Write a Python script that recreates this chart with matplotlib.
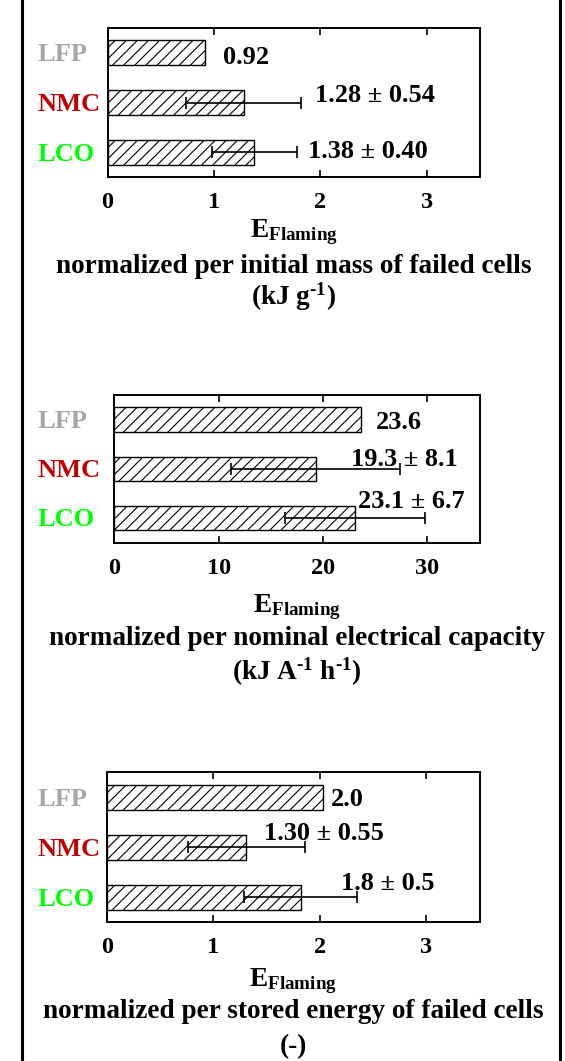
import numpy as np
import matplotlib
matplotlib.use('Agg')
import matplotlib.pyplot as plt
import matplotlib.transforms as mtransforms
from matplotlib.lines import Line2D

# Datos
categorias = ['LFP', 'NMC', 'LCO']
colores_cat = ['#a6a6a6', '#c00000', '#00ff00']

masa_val = [0.92, 1.28, 1.38]
masa_err = [0.0, 0.54, 0.40]
masa_txt = ['0.92', '1.28 ± 0.54', '1.38 ± 0.40']

capacidad_val = [23.6, 19.3, 23.1]
capacidad_err = [0.0, 8.1, 6.7]
capacidad_txt = ['23.6', '19.3 ± 8.1', '23.1 ± 6.7']

energia_val = [2.03, 1.31, 1.82]
energia_err = [0.0, 0.55, 0.53]
energia_txt = ['2.0', '1.30 ± 0.55', '1.8 ± 0.5']

ticks_masa = [0, 1, 2, 3]
ticks_capacidad = [0, 10, 20, 30]
ticks_energia = [0, 1, 2, 3]

plt.rcParams['font.family'] = ['Liberation Serif', 'DejaVu Serif']
plt.rcParams['font.weight'] = 'bold'
plt.rcParams['mathtext.fontset'] = 'custom'
plt.rcParams['mathtext.rm'] = 'Liberation Serif:bold'
plt.rcParams['mathtext.bf'] = 'Liberation Serif:bold'
plt.rcParams['mathtext.it'] = 'Liberation Serif:bold'
plt.rcParams['hatch.linewidth'] = 0.8

W, H = 565, 1061
fig = plt.figure(figsize=(W / 100, H / 100), dpi=100)


def caja(x0, x1, y0, y1):
    # pixeles (desde arriba) -> fraccion de figura
    return [x0 / W, 1 - y1 / H, (x1 - x0) / W, (y1 - y0) / H]


def panel(rect, valores, errores, textos, txt_x, txt_dy, xmax, ticks,
          lineas, y_lineas):
    ax = fig.add_axes(rect)
    y = np.arange(len(categorias))
    ax.barh(y, valores, height=0.5, color='white', edgecolor='black',
            hatch='///', linewidth=1.0)
    for i in range(len(categorias)):
        if errores[i] > 0:
            ax.errorbar(valores[i], y[i], xerr=errores[i], fmt='none',
                        ecolor='black', elinewidth=1.2, capsize=4,
                        capthick=1.2)
        ax.text(txt_x[i], y[i] + txt_dy[i], textos[i], fontsize=19,
                fontweight='bold', ha='left', va='baseline')
    ax.set_xlim(0, xmax)
    ax.set_ylim(2.5, -0.5)
    ax.set_yticks([])
    ax.set_xticks(ticks)
    ax.set_xticklabels([str(t) for t in ticks], fontsize=17.5,
                       fontweight='bold')
    ax.tick_params(axis='x', direction='in', top=True, bottom=True,
                   length=5, width=1.2, pad=11)
    for s in ax.spines.values():
        s.set_linewidth(1.4)

    # etiquetas de categoria, alineadas a la izquierda en x=38 px
    trans = mtransforms.blended_transform_factory(fig.transFigure, ax.transData)
    for i, c in enumerate(categorias):
        ax.text(38 / W, y[i] + 0.17, c, transform=trans, color=colores_cat[i],
                fontsize=19, fontweight='bold', ha='left', va='baseline')

    xc = (rect[0] + rect[2] / 2)
    for txt, yy in zip(lineas, y_lineas):
        fig.text(xc, 1 - yy / H, txt, fontsize=19.6, fontweight='bold',
                 ha='center', va='baseline')
    return ax


panel(caja(107.5, 480, 28, 177), masa_val, masa_err, masa_txt,
      [1.087, 1.95, 1.88], [0.22, 0.0, 0.12], 3.5, ticks_masa,
      [r'$\mathbf{E_{Flaming}}$',
       'normalized per initial mass of failed cells',
       r'(kJ g$^{\text{-1}}$)'],
      [237, 273, 305])

panel(caja(114.4, 479.5, 395, 542.7), capacidad_val, capacidad_err,
      capacidad_txt, [25.1, 22.7, 23.35], [0.19, -0.06, -0.2], 35,
      ticks_capacidad,
      [r'$\mathbf{E_{Flaming}}$',
       'normalized per nominal electrical capacity',
       r'(kJ A$^{\text{-1}}$ h$^{\text{-1}}$)'],
      [612, 645, 680])

panel(caja(107, 479.5, 772, 922), energia_val, energia_err, energia_txt,
      [2.107, 1.477, 2.2], [0.18, -0.13, -0.14], 3.5, ticks_energia,
      [r'$\mathbf{E_{Flaming}}$',
       'normalized per stored energy of failed cells',
       '(-)'],
      [986, 1018, 1052.7])

# lineas verticales del marco
for xv in (22, 560):
    fig.add_artist(Line2D([xv / W, xv / W], [0, 1], color='black',
                          linewidth=2.2, transform=fig.transFigure))

fig.savefig('out.png', dpi=100)
